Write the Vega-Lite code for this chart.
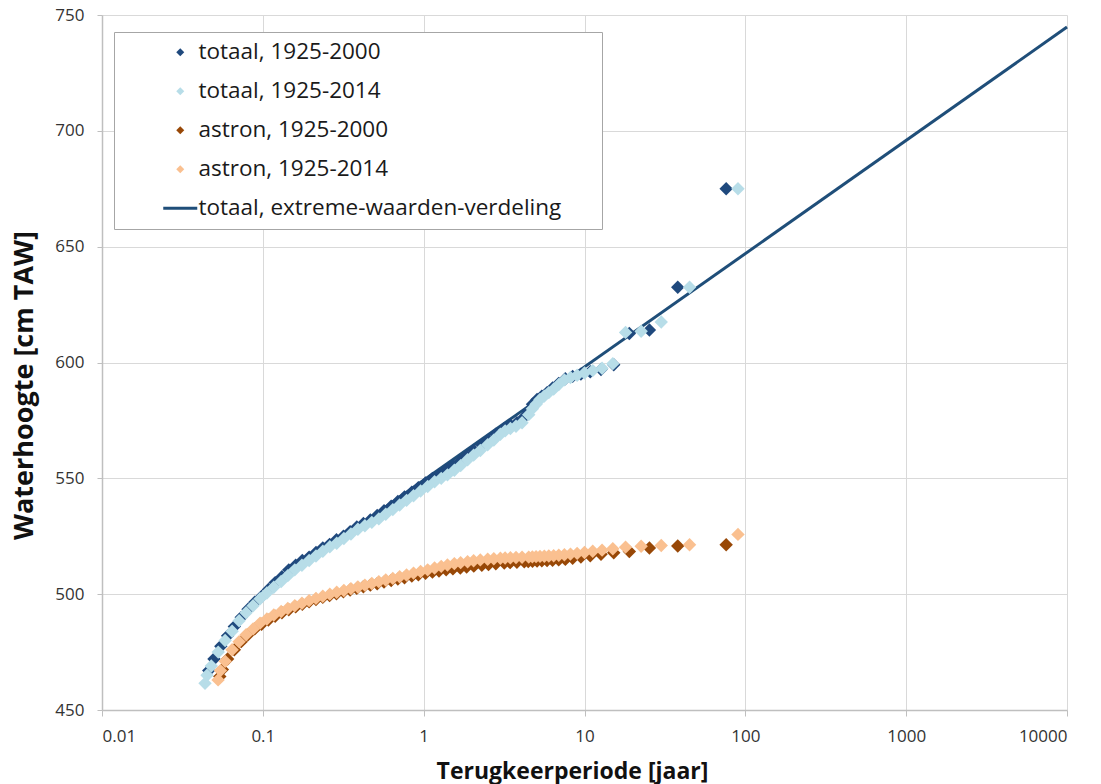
{
  "$schema": "https://vega.github.io/schema/vega-lite/v6.json",
  "width": 965,
  "height": 695,
  "autosize": {"type": "none"},
  "padding": {"left": 102, "top": 15, "right": 34, "bottom": 74},
  "background": "white",
  "config": {"view": {"stroke": null}},
  "data": {"values": [
    {"series": "totaal, extreme-waarden-verdeling", "T": 0.1, "h": 500.3},
    {"series": "totaal, extreme-waarden-verdeling", "T": 10000, "h": 744.8},

    {"series": "totaal, 1925-2000", "T": 76, "h": 675},
    {"series": "totaal, 1925-2000", "T": 38, "h": 632.5},
    {"series": "totaal, 1925-2000", "T": 25.33, "h": 614},
    {"series": "totaal, 1925-2000", "T": 19, "h": 612.5},
    {"series": "totaal, 1925-2000", "T": 15.2, "h": 599},
    {"series": "totaal, 1925-2000", "T": 12.67, "h": 597},
    {"series": "totaal, 1925-2000", "T": 10.86, "h": 596},
    {"series": "totaal, 1925-2000", "T": 9.5, "h": 595},
    {"series": "totaal, 1925-2000", "T": 8.44, "h": 594},
    {"series": "totaal, 1925-2000", "T": 7.6, "h": 593},
    {"series": "totaal, 1925-2000", "T": 6.91, "h": 591},
    {"series": "totaal, 1925-2000", "T": 6.33, "h": 589},
    {"series": "totaal, 1925-2000", "T": 5.85, "h": 587},
    {"series": "totaal, 1925-2000", "T": 5.43, "h": 585.5},
    {"series": "totaal, 1925-2000", "T": 5.07, "h": 584},
    {"series": "totaal, 1925-2000", "T": 4.75, "h": 582},
    {"series": "totaal, 1925-2000", "T": 4.47, "h": 579},
    {"series": "totaal, 1925-2000", "T": 4.22, "h": 576.5},
    {"series": "totaal, 1925-2000", "T": 3.8, "h": 574},
    {"series": "totaal, 1925-2000", "T": 3.45, "h": 573},
    {"series": "totaal, 1925-2000", "T": 3.17, "h": 571.5},
    {"series": "totaal, 1925-2000", "T": 2.81, "h": 569},
    {"series": "totaal, 1925-2000", "T": 2.53, "h": 566.5},
    {"series": "totaal, 1925-2000", "T": 2.3, "h": 564.5},
    {"series": "totaal, 1925-2000", "T": 2.05, "h": 562},
    {"series": "totaal, 1925-2000", "T": 1.85, "h": 559.5},
    {"series": "totaal, 1925-2000", "T": 1.69, "h": 557.5},
    {"series": "totaal, 1925-2000", "T": 1.52, "h": 555.5},
    {"series": "totaal, 1925-2000", "T": 1.38, "h": 553.5},
    {"series": "totaal, 1925-2000", "T": 1.246, "h": 551.5},
    {"series": "totaal, 1925-2000", "T": 1.134, "h": 550},
    {"series": "totaal, 1925-2000", "T": 1.027, "h": 548},
    {"series": "totaal, 1925-2000", "T": 0.927, "h": 546},
    {"series": "totaal, 1925-2000", "T": 0.844, "h": 544},
    {"series": "totaal, 1925-2000", "T": 0.76, "h": 542},
    {"series": "totaal, 1925-2000", "T": 0.691, "h": 540},
    {"series": "totaal, 1925-2000", "T": 0.628, "h": 538},
    {"series": "totaal, 1925-2000", "T": 0.567, "h": 536},
    {"series": "totaal, 1925-2000", "T": 0.514, "h": 534},
    {"series": "totaal, 1925-2000", "T": 0.466, "h": 532},
    {"series": "totaal, 1925-2000", "T": 0.422, "h": 530.5},
    {"series": "totaal, 1925-2000", "T": 0.384, "h": 529},
    {"series": "totaal, 1925-2000", "T": 0.349, "h": 527},
    {"series": "totaal, 1925-2000", "T": 0.317, "h": 525},
    {"series": "totaal, 1925-2000", "T": 0.287, "h": 523.5},
    {"series": "totaal, 1925-2000", "T": 0.26, "h": 521.5},
    {"series": "totaal, 1925-2000", "T": 0.236, "h": 520},
    {"series": "totaal, 1925-2000", "T": 0.214, "h": 518},
    {"series": "totaal, 1925-2000", "T": 0.194, "h": 516},
    {"series": "totaal, 1925-2000", "T": 0.176, "h": 514.5},
    {"series": "totaal, 1925-2000", "T": 0.16, "h": 512.5},
    {"series": "totaal, 1925-2000", "T": 0.145, "h": 510.5},
    {"series": "totaal, 1925-2000", "T": 0.1315, "h": 507.5},
    {"series": "totaal, 1925-2000", "T": 0.1193, "h": 505},
    {"series": "totaal, 1925-2000", "T": 0.1083, "h": 502},
    {"series": "totaal, 1925-2000", "T": 0.0982, "h": 499},
    {"series": "totaal, 1925-2000", "T": 0.0891, "h": 496.5},
    {"series": "totaal, 1925-2000", "T": 0.0809, "h": 493.5},
    {"series": "totaal, 1925-2000", "T": 0.0734, "h": 490},
    {"series": "totaal, 1925-2000", "T": 0.0665, "h": 486},
    {"series": "totaal, 1925-2000", "T": 0.0604, "h": 482},
    {"series": "totaal, 1925-2000", "T": 0.0548, "h": 477.5},
    {"series": "totaal, 1925-2000", "T": 0.0497, "h": 472},
    {"series": "totaal, 1925-2000", "T": 0.0461, "h": 467},

    {"series": "totaal, 1925-2014", "T": 90, "h": 675},
    {"series": "totaal, 1925-2014", "T": 45, "h": 632.5},
    {"series": "totaal, 1925-2014", "T": 30, "h": 617.5},
    {"series": "totaal, 1925-2014", "T": 22.5, "h": 613.5},
    {"series": "totaal, 1925-2014", "T": 18, "h": 613},
    {"series": "totaal, 1925-2014", "T": 15, "h": 599.5},
    {"series": "totaal, 1925-2014", "T": 12.86, "h": 597.5},
    {"series": "totaal, 1925-2014", "T": 11.25, "h": 596.5},
    {"series": "totaal, 1925-2014", "T": 10, "h": 595.5},
    {"series": "totaal, 1925-2014", "T": 9, "h": 594.5},
    {"series": "totaal, 1925-2014", "T": 8.18, "h": 593.5},
    {"series": "totaal, 1925-2014", "T": 7.5, "h": 592.5},
    {"series": "totaal, 1925-2014", "T": 6.92, "h": 590.5},
    {"series": "totaal, 1925-2014", "T": 6.43, "h": 588.5},
    {"series": "totaal, 1925-2014", "T": 6, "h": 587},
    {"series": "totaal, 1925-2014", "T": 5.625, "h": 585.5},
    {"series": "totaal, 1925-2014", "T": 5.29, "h": 584},
    {"series": "totaal, 1925-2014", "T": 5, "h": 582},
    {"series": "totaal, 1925-2014", "T": 4.74, "h": 580},
    {"series": "totaal, 1925-2014", "T": 4.5, "h": 577.5},
    {"series": "totaal, 1925-2014", "T": 4.09, "h": 574},
    {"series": "totaal, 1925-2014", "T": 3.75, "h": 572.5},
    {"series": "totaal, 1925-2014", "T": 3.46, "h": 571.5},
    {"series": "totaal, 1925-2014", "T": 3.21, "h": 570.5},
    {"series": "totaal, 1925-2014", "T": 3, "h": 569},
    {"series": "totaal, 1925-2014", "T": 2.73, "h": 566.5},
    {"series": "totaal, 1925-2014", "T": 2.5, "h": 564.5},
    {"series": "totaal, 1925-2014", "T": 2.25, "h": 562},
    {"series": "totaal, 1925-2014", "T": 2.045, "h": 560},
    {"series": "totaal, 1925-2014", "T": 1.875, "h": 558},
    {"series": "totaal, 1925-2014", "T": 1.698, "h": 555.5},
    {"series": "totaal, 1925-2014", "T": 1.552, "h": 553.5},
    {"series": "totaal, 1925-2014", "T": 1.406, "h": 551.5},
    {"series": "totaal, 1925-2014", "T": 1.286, "h": 550},
    {"series": "totaal, 1925-2014", "T": 1.169, "h": 548.5},
    {"series": "totaal, 1925-2014", "T": 1.059, "h": 546.5},
    {"series": "totaal, 1925-2014", "T": 0.957, "h": 544.5},
    {"series": "totaal, 1925-2014", "T": 0.865, "h": 542.5},
    {"series": "totaal, 1925-2014", "T": 0.783, "h": 540.5},
    {"series": "totaal, 1925-2014", "T": 0.709, "h": 538.5},
    {"series": "totaal, 1925-2014", "T": 0.643, "h": 536.5},
    {"series": "totaal, 1925-2014", "T": 0.581, "h": 534.5},
    {"series": "totaal, 1925-2014", "T": 0.526, "h": 532.5},
    {"series": "totaal, 1925-2014", "T": 0.476, "h": 531},
    {"series": "totaal, 1925-2014", "T": 0.431, "h": 529.5},
    {"series": "totaal, 1925-2014", "T": 0.39, "h": 528},
    {"series": "totaal, 1925-2014", "T": 0.353, "h": 526},
    {"series": "totaal, 1925-2014", "T": 0.319, "h": 524},
    {"series": "totaal, 1925-2014", "T": 0.288, "h": 522},
    {"series": "totaal, 1925-2014", "T": 0.261, "h": 520.5},
    {"series": "totaal, 1925-2014", "T": 0.236, "h": 518.5},
    {"series": "totaal, 1925-2014", "T": 0.214, "h": 516.5},
    {"series": "totaal, 1925-2014", "T": 0.194, "h": 514.5},
    {"series": "totaal, 1925-2014", "T": 0.175, "h": 512.5},
    {"series": "totaal, 1925-2014", "T": 0.158, "h": 510.5},
    {"series": "totaal, 1925-2014", "T": 0.143, "h": 508},
    {"series": "totaal, 1925-2014", "T": 0.13, "h": 505.5},
    {"series": "totaal, 1925-2014", "T": 0.117, "h": 503},
    {"series": "totaal, 1925-2014", "T": 0.106, "h": 500.5},
    {"series": "totaal, 1925-2014", "T": 0.0961, "h": 498},
    {"series": "totaal, 1925-2014", "T": 0.087, "h": 495},
    {"series": "totaal, 1925-2014", "T": 0.0787, "h": 492},
    {"series": "totaal, 1925-2014", "T": 0.0712, "h": 488.5},
    {"series": "totaal, 1925-2014", "T": 0.0644, "h": 484},
    {"series": "totaal, 1925-2014", "T": 0.0583, "h": 480},
    {"series": "totaal, 1925-2014", "T": 0.0528, "h": 475},
    {"series": "totaal, 1925-2014", "T": 0.0478, "h": 469},
    {"series": "totaal, 1925-2014", "T": 0.045, "h": 465},
    {"series": "totaal, 1925-2014", "T": 0.0437, "h": 461.5},

    {"series": "astron, 1925-2000", "T": 76, "h": 521.3},
    {"series": "astron, 1925-2000", "T": 38, "h": 520.8},
    {"series": "astron, 1925-2000", "T": 25.33, "h": 519.9},
    {"series": "astron, 1925-2000", "T": 19, "h": 518.4},
    {"series": "astron, 1925-2000", "T": 15.2, "h": 517.9},
    {"series": "astron, 1925-2000", "T": 12.67, "h": 517.2},
    {"series": "astron, 1925-2000", "T": 10.86, "h": 516.6},
    {"series": "astron, 1925-2000", "T": 9.5, "h": 516},
    {"series": "astron, 1925-2000", "T": 8.44, "h": 515.5},
    {"series": "astron, 1925-2000", "T": 7.6, "h": 515},
    {"series": "astron, 1925-2000", "T": 6.91, "h": 514.8},
    {"series": "astron, 1925-2000", "T": 6.33, "h": 514.6},
    {"series": "astron, 1925-2000", "T": 5.85, "h": 514.5},
    {"series": "astron, 1925-2000", "T": 5.43, "h": 514.4},
    {"series": "astron, 1925-2000", "T": 5.07, "h": 514.3},
    {"series": "astron, 1925-2000", "T": 4.75, "h": 514.2},
    {"series": "astron, 1925-2000", "T": 4.47, "h": 514.1},
    {"series": "astron, 1925-2000", "T": 4.22, "h": 514},
    {"series": "astron, 1925-2000", "T": 3.8, "h": 513.8},
    {"series": "astron, 1925-2000", "T": 3.45, "h": 513.6},
    {"series": "astron, 1925-2000", "T": 3.17, "h": 513.4},
    {"series": "astron, 1925-2000", "T": 2.81, "h": 513.1},
    {"series": "astron, 1925-2000", "T": 2.53, "h": 512.8},
    {"series": "astron, 1925-2000", "T": 2.3, "h": 512.5},
    {"series": "astron, 1925-2000", "T": 2.05, "h": 512.1},
    {"series": "astron, 1925-2000", "T": 1.85, "h": 511.7},
    {"series": "astron, 1925-2000", "T": 1.69, "h": 511.3},
    {"series": "astron, 1925-2000", "T": 1.52, "h": 510.9},
    {"series": "astron, 1925-2000", "T": 1.38, "h": 510.5},
    {"series": "astron, 1925-2000", "T": 1.246, "h": 510},
    {"series": "astron, 1925-2000", "T": 1.134, "h": 509.5},
    {"series": "astron, 1925-2000", "T": 1.027, "h": 509},
    {"series": "astron, 1925-2000", "T": 0.927, "h": 508.4},
    {"series": "astron, 1925-2000", "T": 0.844, "h": 507.8},
    {"series": "astron, 1925-2000", "T": 0.76, "h": 507.1},
    {"series": "astron, 1925-2000", "T": 0.691, "h": 506.5},
    {"series": "astron, 1925-2000", "T": 0.628, "h": 505.9},
    {"series": "astron, 1925-2000", "T": 0.567, "h": 505.2},
    {"series": "astron, 1925-2000", "T": 0.514, "h": 504.5},
    {"series": "astron, 1925-2000", "T": 0.466, "h": 503.9},
    {"series": "astron, 1925-2000", "T": 0.422, "h": 503.2},
    {"series": "astron, 1925-2000", "T": 0.384, "h": 502.5},
    {"series": "astron, 1925-2000", "T": 0.349, "h": 501.8},
    {"series": "astron, 1925-2000", "T": 0.317, "h": 501},
    {"series": "astron, 1925-2000", "T": 0.287, "h": 500.2},
    {"series": "astron, 1925-2000", "T": 0.26, "h": 499.4},
    {"series": "astron, 1925-2000", "T": 0.236, "h": 498.6},
    {"series": "astron, 1925-2000", "T": 0.214, "h": 497.7},
    {"series": "astron, 1925-2000", "T": 0.194, "h": 496.7},
    {"series": "astron, 1925-2000", "T": 0.176, "h": 495.6},
    {"series": "astron, 1925-2000", "T": 0.16, "h": 494.5},
    {"series": "astron, 1925-2000", "T": 0.145, "h": 493.3},
    {"series": "astron, 1925-2000", "T": 0.1315, "h": 492},
    {"series": "astron, 1925-2000", "T": 0.1193, "h": 490.5},
    {"series": "astron, 1925-2000", "T": 0.1083, "h": 488.8},
    {"series": "astron, 1925-2000", "T": 0.0982, "h": 487},
    {"series": "astron, 1925-2000", "T": 0.0891, "h": 485},
    {"series": "astron, 1925-2000", "T": 0.0809, "h": 482.5},
    {"series": "astron, 1925-2000", "T": 0.0734, "h": 479.5},
    {"series": "astron, 1925-2000", "T": 0.0665, "h": 476},
    {"series": "astron, 1925-2000", "T": 0.0604, "h": 472},
    {"series": "astron, 1925-2000", "T": 0.056, "h": 467.5},
    {"series": "astron, 1925-2000", "T": 0.054, "h": 464.5},

    {"series": "astron, 1925-2014", "T": 90, "h": 525.8},
    {"series": "astron, 1925-2014", "T": 45, "h": 521.3},
    {"series": "astron, 1925-2014", "T": 30, "h": 521},
    {"series": "astron, 1925-2014", "T": 22.5, "h": 520.7},
    {"series": "astron, 1925-2014", "T": 18, "h": 520.3},
    {"series": "astron, 1925-2014", "T": 15, "h": 519.6},
    {"series": "astron, 1925-2014", "T": 12.86, "h": 519},
    {"series": "astron, 1925-2014", "T": 11.25, "h": 518.5},
    {"series": "astron, 1925-2014", "T": 10, "h": 518},
    {"series": "astron, 1925-2014", "T": 9, "h": 517.6},
    {"series": "astron, 1925-2014", "T": 8.18, "h": 517.3},
    {"series": "astron, 1925-2014", "T": 7.5, "h": 517},
    {"series": "astron, 1925-2014", "T": 6.92, "h": 516.8},
    {"series": "astron, 1925-2014", "T": 6.43, "h": 516.6},
    {"series": "astron, 1925-2014", "T": 6, "h": 516.5},
    {"series": "astron, 1925-2014", "T": 5.625, "h": 516.4},
    {"series": "astron, 1925-2014", "T": 5.29, "h": 516.3},
    {"series": "astron, 1925-2014", "T": 5, "h": 516.2},
    {"series": "astron, 1925-2014", "T": 4.74, "h": 516.1},
    {"series": "astron, 1925-2014", "T": 4.5, "h": 516},
    {"series": "astron, 1925-2014", "T": 4.09, "h": 515.9},
    {"series": "astron, 1925-2014", "T": 3.75, "h": 515.8},
    {"series": "astron, 1925-2014", "T": 3.46, "h": 515.7},
    {"series": "astron, 1925-2014", "T": 3.21, "h": 515.6},
    {"series": "astron, 1925-2014", "T": 3, "h": 515.5},
    {"series": "astron, 1925-2014", "T": 2.73, "h": 515.3},
    {"series": "astron, 1925-2014", "T": 2.5, "h": 515.1},
    {"series": "astron, 1925-2014", "T": 2.25, "h": 514.8},
    {"series": "astron, 1925-2014", "T": 2.045, "h": 514.4},
    {"series": "astron, 1925-2014", "T": 1.875, "h": 514},
    {"series": "astron, 1925-2014", "T": 1.698, "h": 513.6},
    {"series": "astron, 1925-2014", "T": 1.552, "h": 513.2},
    {"series": "astron, 1925-2014", "T": 1.406, "h": 512.6},
    {"series": "astron, 1925-2014", "T": 1.286, "h": 512},
    {"series": "astron, 1925-2014", "T": 1.169, "h": 511.3},
    {"series": "astron, 1925-2014", "T": 1.059, "h": 510.5},
    {"series": "astron, 1925-2014", "T": 0.957, "h": 509.8},
    {"series": "astron, 1925-2014", "T": 0.865, "h": 509.1},
    {"series": "astron, 1925-2014", "T": 0.783, "h": 508.3},
    {"series": "astron, 1925-2014", "T": 0.709, "h": 507.5},
    {"series": "astron, 1925-2014", "T": 0.643, "h": 506.8},
    {"series": "astron, 1925-2014", "T": 0.581, "h": 506.1},
    {"series": "astron, 1925-2014", "T": 0.526, "h": 505.4},
    {"series": "astron, 1925-2014", "T": 0.476, "h": 504.6},
    {"series": "astron, 1925-2014", "T": 0.431, "h": 503.9},
    {"series": "astron, 1925-2014", "T": 0.39, "h": 503.1},
    {"series": "astron, 1925-2014", "T": 0.353, "h": 502.4},
    {"series": "astron, 1925-2014", "T": 0.319, "h": 501.6},
    {"series": "astron, 1925-2014", "T": 0.288, "h": 500.8},
    {"series": "astron, 1925-2014", "T": 0.261, "h": 500},
    {"series": "astron, 1925-2014", "T": 0.236, "h": 499.1},
    {"series": "astron, 1925-2014", "T": 0.214, "h": 498.2},
    {"series": "astron, 1925-2014", "T": 0.194, "h": 497.2},
    {"series": "astron, 1925-2014", "T": 0.175, "h": 496.1},
    {"series": "astron, 1925-2014", "T": 0.158, "h": 495},
    {"series": "astron, 1925-2014", "T": 0.143, "h": 493.8},
    {"series": "astron, 1925-2014", "T": 0.13, "h": 492.5},
    {"series": "astron, 1925-2014", "T": 0.117, "h": 491},
    {"series": "astron, 1925-2014", "T": 0.106, "h": 489.3},
    {"series": "astron, 1925-2014", "T": 0.0961, "h": 487.5},
    {"series": "astron, 1925-2014", "T": 0.087, "h": 485},
    {"series": "astron, 1925-2014", "T": 0.0787, "h": 482.5},
    {"series": "astron, 1925-2014", "T": 0.0712, "h": 479.5},
    {"series": "astron, 1925-2014", "T": 0.0644, "h": 476},
    {"series": "astron, 1925-2014", "T": 0.0583, "h": 471},
    {"series": "astron, 1925-2014", "T": 0.0545, "h": 467},
    {"series": "astron, 1925-2014", "T": 0.0527, "h": 463}
  ]},
  "layer": [
    {
      "transform": [{"filter": "datum.series === 'totaal, extreme-waarden-verdeling'"}],
      "mark": {"type": "line", "strokeWidth": 3, "color": "#1F4E79"},
      "encoding": {
        "x": {"field": "T", "type": "quantitative"},
        "y": {"field": "h", "type": "quantitative"}
      }
    },
    {
      "transform": [{"filter": "datum.series !== 'totaal, extreme-waarden-verdeling'"}],
      "mark": {"type": "point", "filled": true, "size": 180, "opacity": 1},
      "encoding": {
        "x": {
          "field": "T", "type": "quantitative",
          "scale": {"type": "log", "domain": [0.01, 10000], "nice": false},
          "axis": {
            "title": "Terugkeerperiode [jaar]",
            "values": [0.01, 0.1, 1, 10, 100, 1000, 10000],
            "format": "~g",
            "grid": true, "gridColor": "#d9d9d9", "gridWidth": 1,
            "domainColor": "#bfbfbf", "domainWidth": 1.5,
            "tickColor": "#bfbfbf", "tickSize": 6,
            "labelFont": "Open Sans", "labelFontSize": 17, "labelColor": "#333333", "labelPadding": 12,
            "labelOverlap": false,
            "titleFont": "Open Sans", "titleFontSize": 23, "titleFontWeight": "bold", "titleColor": "#111111",
            "titleX": 470, "titleY": 68, "titleBaseline": "alphabetic"
          }
        },
        "y": {
          "field": "h", "type": "quantitative",
          "scale": {"domain": [450, 750], "nice": false, "zero": false},
          "axis": {
            "title": "Waterhoogte [cm TAW]",
            "values": [450, 500, 550, 600, 650, 700, 750],
            "grid": true, "gridColor": "#d9d9d9", "gridWidth": 1,
            "domainColor": "#bfbfbf", "domainWidth": 1.5,
            "tickColor": "#bfbfbf", "tickSize": 5,
            "labelFont": "Open Sans", "labelFontSize": 17, "labelColor": "#333333", "labelPadding": 13,
            "titleFont": "Open Sans", "titleFontSize": 27, "titleFontWeight": "bold", "titleColor": "#111111",
            "titleX": -70, "titleY": 370, "titleBaseline": "alphabetic", "titleAngle": -90
          }
        },
        "shape": {
          "field": "series", "type": "nominal",
          "scale": {
            "domain": ["totaal, 1925-2000", "totaal, 1925-2014", "astron, 1925-2000", "astron, 1925-2014", "totaal, extreme-waarden-verdeling"],
            "range": ["diamond", "diamond", "diamond", "diamond", "M-4.25,-0.38L4.25,-0.38L4.25,0.38L-4.25,0.38Z"]
          }
        },
        "color": {
          "field": "series", "type": "nominal",
          "scale": {
            "domain": ["totaal, 1925-2000", "totaal, 1925-2014", "astron, 1925-2000", "astron, 1925-2014", "totaal, extreme-waarden-verdeling"],
            "range": ["#1F497D", "#B7DDE8", "#984807", "#FAC090", "#1F4E79"]
          },
          "legend": {
            "orient": "none", "legendX": 12, "legendY": 17,
            "title": "\u00a0", "titleOrient": "right", "titlePadding": 32, "titleFontSize": 8,
            "padding": 9, "rowPadding": 16,
            "symbolOffset": 46, "labelOffset": 7,
            "symbolSize": 64,
            "labelFont": "Open Sans", "labelFontSize": 22.5, "labelColor": "#1a1a1a", "labelLimit": 700,
            "strokeColor": "#a6a6a6", "fillColor": "white"
          }
        }
      }
    }
  ]
}
